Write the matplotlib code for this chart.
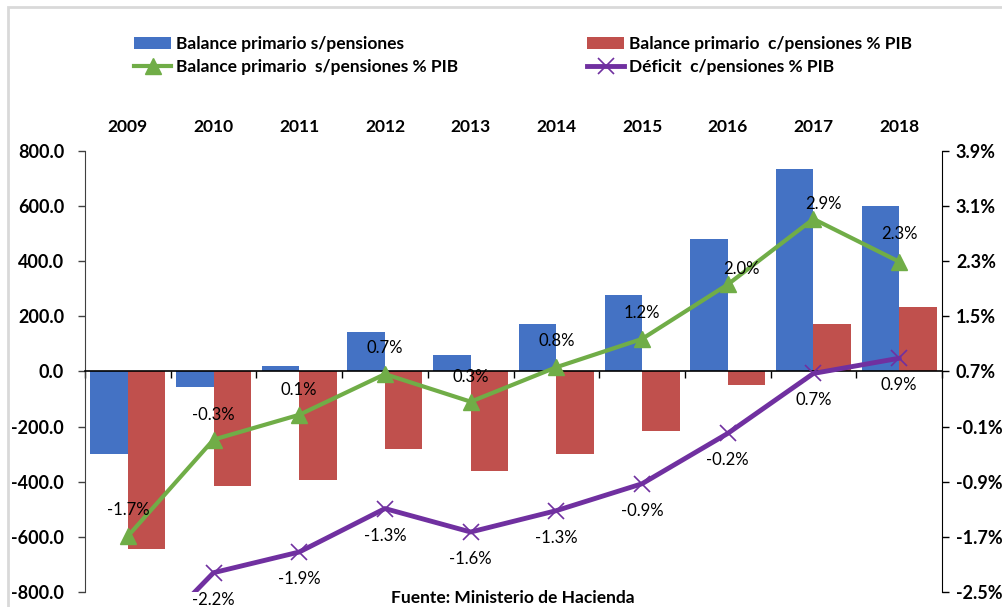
import numpy as np
import matplotlib
matplotlib.use('Agg')
import matplotlib.pyplot as plt
from matplotlib.patches import Rectangle

plt.rcParams['font.family'] = ['Lato', 'DejaVu Sans']

years = ['2009', '2010', '2011', '2012', '2013', '2014', '2015', '2016', '2017', '2018']
bal_sin = [-300, -55, 18, 143, 58, 172, 276, 479, 733, 599]           # Balance primario s/pensiones
bal_con_pib = [-644, -415, -394, -283, -363, -301, -215, -48, 170, 232]  # Balance primario c/pensiones % PIB (bars)
bal_sin_pib = [-1.69, -0.29, 0.07, 0.66, 0.26, 0.76, 1.17, 1.96, 2.91, 2.29]
deficit_pib = [-3.5, -2.22, -1.92, -1.29, -1.63, -1.32, -0.93, -0.20, 0.67, 0.89]

left_ticks = [-800, -600, -400, -200, 0, 200, 400, 600, 800]
right_ticks = [-2.5, -1.7, -0.9, -0.1, 0.7, 1.5, 2.3, 3.1, 3.9]

BLUE = '#4472C4'
RED = '#C0504D'
GREEN = '#70AD47'
PURPLE = '#7030A0'

W, H = 1003, 607
fig = plt.figure(figsize=(W / 100, H / 100), dpi=100)
ax = fig.add_axes([85 / W, (H - 592) / H, 857 / W, 441.3 / H])
ax2 = ax.twinx()

x = np.arange(len(years))
bw = 0.4375
b1 = ax.bar(x - bw / 2, bal_sin, bw, color=BLUE, label='Balance primario s/pensiones', zorder=2)
b2 = ax.bar(x + bw / 2, bal_con_pib, bw, color=RED, label='Balance primario  c/pensiones % PIB', zorder=2)

ax.set_xlim(-0.5, len(years) - 0.5)
ax.set_ylim(-800, 800)
ax.set_yticks(left_ticks)
ax.set_yticklabels([f'{v:.1f}' for v in left_ticks], fontweight='bold', fontsize=13)
ax.tick_params(axis='y', length=5, width=1, color='#404040', pad=10)

# category axis sitting on zero, ticks between categories
ax.spines['bottom'].set_position(('data', 0))
ax.spines['bottom'].set_linewidth(1.2)
ax.set_xticks(np.arange(-0.5, len(years)))
ax.set_xticklabels([])
ax.tick_params(axis='x', length=5, width=1, direction='out')
ax.spines['top'].set_visible(False)
ax.spines['right'].set_visible(False)
ax.spines['left'].set_color('#404040')

top = ax.secondary_xaxis('top')
top.set_xticks(x)
top.set_xticklabels(years, fontweight='bold', fontsize=12.5)
top.tick_params(length=0, pad=11)
top.spines['top'].set_visible(False)

# right axis: percentages
l1, = ax2.plot(x, bal_sin_pib, color=GREEN, lw=3, marker='^', ms=12,
               label='Balance primario  s/pensiones % PIB', zorder=3)
l2, = ax2.plot(x, deficit_pib, color=PURPLE, lw=3.5, marker='x', ms=11, mew=1.2,
               label='Déficit  c/pensiones % PIB', zorder=3)
ax2.set_ylim(-2.5, 3.9)
ax2.set_yticks(right_ticks)
ax2.set_yticklabels([f'{v:.1f}%' for v in right_ticks], fontweight='bold', fontsize=13)
ax2.tick_params(axis='y', length=5, width=1, pad=5)
for s in ['top', 'bottom', 'left']:
    ax2.spines[s].set_visible(False)

green_dy = [26, 25, 25, 26, 25, 26, 26, 15, 15, 28]
green_dx = [0, 0, 0, 0, 0, 0, 0, 14, 10, 0]
for i, v in enumerate(bal_sin_pib):
    ax2.annotate(f'{v:.1f}%', (x[i], v), xytext=(green_dx[i], green_dy[i]),
                 textcoords='offset pixels', ha='center', va='center', fontsize=12,
                 annotation_clip=False)
for i, v in enumerate(deficit_pib):
    if v < -2.5:
        continue
    ax2.annotate(f'{v:.1f}%', (x[i], v), xytext=(0, -27),
                 textcoords='offset pixels', ha='center', va='center', fontsize=12,
                 annotation_clip=False)

leg_kw = dict(loc='upper left', frameon=False, prop={'weight': 'bold', 'size': 12.5},
              handlelength=2.15, handletextpad=0.25, labelspacing=0.38,
              borderpad=0, borderaxespad=0)
fig.legend(handles=[b1, l1], bbox_to_anchor=(134 / W, 1 - 36 / H), **leg_kw)
fig.legend(handles=[b2, l2], bbox_to_anchor=(587 / W, 1 - 36 / H), **leg_kw)

fig.text(513 / W, 1 - 598 / H, 'Fuente: Ministerio de Hacienda', ha='center', va='center',
         fontweight='bold', fontsize=12.5)

fig.patches.append(Rectangle((8 / W, -0.1), 1.2, 1.1 - 7 / H, transform=fig.transFigure,
                             fill=False, edgecolor='#D9D9D9', lw=2))

fig.savefig('out.png', dpi=100)
